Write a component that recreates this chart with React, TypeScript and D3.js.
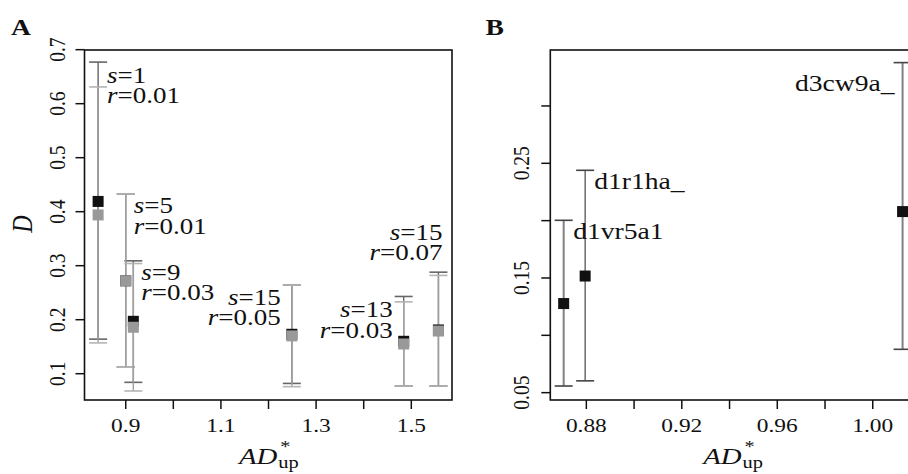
import React from "react";
import * as d3 from "d3";

// Panel A data: two series (black, gray) at each AD*up value
const aX = [0.842, 0.9, 0.916, 1.249, 1.484, 1.557];
const aBlackD = [0.419, 0.272, 0.197, 0.173, 0.16, 0.181];
const aBlackLo = [0.164, 0.112, 0.084, 0.082, 0.077, 0.077];
const aBlackHi = [0.677, 0.433, 0.309, 0.264, 0.243, 0.288];
const aGrayD = [0.394, 0.272, 0.186, 0.17, 0.155, 0.179];
const aGrayLo = [0.157, 0.112, 0.068, 0.076, 0.077, 0.077];
const aGrayHi = [0.631, 0.433, 0.304, 0.264, 0.233, 0.282];
const aLabelS = ["1", "5", "9", "15", "13", "15"];
const aLabelR = ["0.01", "0.01", "0.03", "0.05", "0.03", "0.07"];

const aXTicks = [0.9, 1.0, 1.1, 1.2, 1.3, 1.4, 1.5];
const aXTickLabels = ["0.9", "", "1.1", "", "1.3", "", "1.5"];
const aYTicks = [0.1, 0.2, 0.3, 0.4, 0.5, 0.6, 0.7];
const aYTickLabels = ["0.1", "0.2", "0.3", "0.4", "0.5", "0.6", "0.7"];

// Panel B data
const bNames = ["d1vr5a1", "d1r1ha_", "d3cw9a_"];
const bX = [0.8705, 0.8795, 1.0125];
const bD = [0.1277, 0.1517, 0.2079];
const bLo = [0.0558, 0.0603, 0.0878];
const bHi = [0.2003, 0.2439, 0.3378];
const bXTicks = [0.88, 0.9, 0.92, 0.94, 0.96, 0.98, 1.0];
const bXTickLabels = ["0.88", "", "0.92", "", "0.96", "", "1.00"];
const bYTicks = [0.05, 0.1, 0.15, 0.2, 0.25, 0.3];
const bYTickLabels = ["0.05", "", "0.15", "", "0.25", ""];

const FONT = "Liberation Serif, Times New Roman, Times, serif";
const SX = 1.2;

const W = 908;
const H = 474;
const TOP = 50;
const BOTTOM = 400;

const xA = d3.scaleLinear().domain([0.8134, 1.5855]).range([84.5, 452]);
const yA = d3.scaleLinear().domain([0.0513, 0.6994]).range([BOTTOM, TOP]);
const xB = d3.scaleLinear().domain([0.8649, 1.0177]).range([550.3, 915]);
const yB = d3.scaleLinear().domain([0.0436, 0.3488]).range([BOTTOM, TOP]);

function SText(props: {
  x: number;
  y: number;
  size: number;
  anchor?: string;
  rotate?: boolean;
  italic?: boolean;
  bold?: boolean;
  children: React.ReactNode;
}) {
  const { x, y, size, anchor = "start", rotate, italic, bold, children } = props;
  const tf = `translate(${x},${y}) scale(${SX},1)${rotate ? " rotate(-90)" : ""}`;
  return (
    <text
      transform={tf}
      style={{ fontFamily: FONT }}
      fontSize={size}
      textAnchor={anchor}
      fontStyle={italic ? "italic" : "normal"}
      fontWeight={bold ? "bold" : "normal"}
      fill="#111"
    >
      {children}
    </text>
  );
}

function ErrBar(props: {
  x: number;
  y1: number;
  y2: number;
  color: string;
  w?: number;
  cap?: number;
  capColor?: string;
}) {
  const { x, y1, y2, color, w = 1.4, cap = 9, capColor } = props;
  const cc = capColor || color;
  return (
    <g>
      <line x1={x} x2={x} y1={y1} y2={y2} stroke={color} strokeWidth={w} />
      <line x1={x - cap} x2={x + cap} y1={y1} y2={y1} stroke={cc} strokeWidth={1.6} />
      <line x1={x - cap} x2={x + cap} y1={y2} y2={y2} stroke={cc} strokeWidth={1.6} />
    </g>
  );
}

function Square(props: { x: number; y: number; fill: string }) {
  const s = 11;
  return <rect x={props.x - s / 2} y={props.y - s / 2} width={s} height={s} fill={props.fill} />;
}

function StatLabel(props: { x: number; y: number; s: string; r: string; anchor: string }) {
  const { x, y, s, r, anchor } = props;
  return (
    <g>
      <SText x={x} y={y} size={22.5} anchor={anchor}>
        <tspan fontStyle="italic">s</tspan>
        <tspan>={s}</tspan>
      </SText>
      <SText x={x} y={y + 20.7} size={22.5} anchor={anchor}>
        <tspan fontStyle="italic">r</tspan>
        <tspan>={r}</tspan>
      </SText>
    </g>
  );
}

function XTitle(props: { cx: number }) {
  const { cx } = props;
  return (
    <g>
      <SText x={cx + 9} y={463.5} size={24} anchor="end" italic>
        AD
      </SText>
      <SText x={cx + 10} y={468} size={17} anchor="start">
        up
      </SText>
      <SText x={cx + 17} y={452} size={17} anchor="middle">
        *
      </SText>
    </g>
  );
}

// label placements (offset from point, in px) and anchors
const aLabelPos = [
  { dx: 9, y: 82.7, anchor: "start" },
  { dx: 8, y: 213.3, anchor: "start" },
  { dx: 8, y: 279.7, anchor: "start" },
  { dx: -11, y: 304.7, anchor: "end" },
  { dx: -11, y: 317, anchor: "end" },
  { dx: 4, y: 239.6, anchor: "end" },
];

export default function App() {
  const errA = "#666";
  const errAGray = "#b4b4b4";
  return (
    <svg width={W} height={H} style={{ display: "block", position: "absolute", left: 0, top: 0 }}>
      <rect x={0} y={0} width={W} height={H} fill="#fff" />
      {/* Panel A */}
      <SText x={11} y={35} size={23} bold>
        A
      </SText>
      <rect x={84.5} y={TOP} width={452 - 84.5} height={BOTTOM - TOP} fill="none" stroke="#111" strokeWidth={1.6} />
      {aXTicks.map((t, i) => (
        <g key={"axt" + i}>
          <line x1={xA(t)} x2={xA(t)} y1={BOTTOM} y2={BOTTOM + 9} stroke="#111" strokeWidth={1.5} />
          {aXTickLabels[i] && (
            <SText x={xA(t)} y={432} size={19.5} anchor="middle">
              {aXTickLabels[i]}
            </SText>
          )}
        </g>
      ))}
      {aYTicks.map((t, i) => (
        <g key={"ayt" + i}>
          <line x1={84.5 - 9} x2={84.5} y1={yA(t)} y2={yA(t)} stroke="#111" strokeWidth={1.5} />
          <SText x={65} y={yA(t)} size={19.5} anchor="middle" rotate>
            {aYTickLabels[i]}
          </SText>
        </g>
      ))}
      <SText x={32} y={224} size={24} anchor="middle" rotate italic>
        D
      </SText>
      <XTitle cx={268.3} />
      {aX.map((x, i) => (
        <ErrBar key={"aeb" + i} x={xA(x)} y1={yA(aBlackLo[i])} y2={yA(aBlackHi[i])} color={errA} />
      ))}
      {aX.map((x, i) => (
        <ErrBar key={"aeg" + i} x={xA(x)} y1={yA(aGrayLo[i])} y2={yA(aGrayHi[i])} color="#a0a0a0" capColor={errAGray} />
      ))}
      {aX.map((x, i) => (
        <Square key={"asb" + i} x={xA(x)} y={yA(aBlackD[i])} fill="#111" />
      ))}
      {aX.map((x, i) => (
        <Square key={"asg" + i} x={xA(x)} y={yA(aGrayD[i])} fill="#999" />
      ))}
      {aX.map((x, i) => (
        <StatLabel
          key={"alab" + i}
          x={xA(x) + aLabelPos[i].dx}
          y={aLabelPos[i].y}
          s={aLabelS[i]}
          r={aLabelR[i]}
          anchor={aLabelPos[i].anchor}
        />
      ))}

      {/* Panel B */}
      <SText x={485.5} y={35} size={23} bold>
        B
      </SText>
      <rect x={550.3} y={TOP} width={915 - 550.3} height={BOTTOM - TOP} fill="none" stroke="#111" strokeWidth={1.6} />
      {bXTicks.map((t, i) => (
        <g key={"bxt" + i}>
          <line x1={xB(t)} x2={xB(t)} y1={BOTTOM} y2={BOTTOM + 9} stroke="#111" strokeWidth={1.5} />
          {bXTickLabels[i] && (
            <SText x={xB(t)} y={432} size={19.5} anchor="middle">
              {bXTickLabels[i]}
            </SText>
          )}
        </g>
      ))}
      {bYTicks.map((t, i) => (
        <g key={"byt" + i}>
          <line x1={550.3 - 9} x2={550.3} y1={yB(t)} y2={yB(t)} stroke="#111" strokeWidth={1.5} />
          {bYTickLabels[i] && (
            <SText x={529} y={yB(t)} size={19.5} anchor="middle" rotate>
              {bYTickLabels[i]}
            </SText>
          )}
        </g>
      ))}
      <XTitle cx={732.6} />
      {bX.map((x, i) => (
        <ErrBar
          key={"beb" + i}
          x={xB(x)}
          y1={yB(bLo[i])}
          y2={yB(bHi[i])}
          color={i === 1 ? "#555" : "#808080"}
          w={i === 1 ? 1.3 : 2}
          capColor="#444"
        />
      ))}
      {bX.map((x, i) => (
        <Square key={"bs" + i} x={xB(x)} y={yB(bD[i])} fill="#111" />
      ))}
      <SText x={xB(bX[0]) + 9.5} y={239.3} size={23}>
        {bNames[0]}
      </SText>
      <SText x={xB(bX[1]) + 9} y={189.3} size={23}>
        {bNames[1]}
      </SText>
      <SText x={xB(bX[2]) - 8} y={90.5} size={23} anchor="end">
        {bNames[2]}
      </SText>
    </svg>
  );
}
